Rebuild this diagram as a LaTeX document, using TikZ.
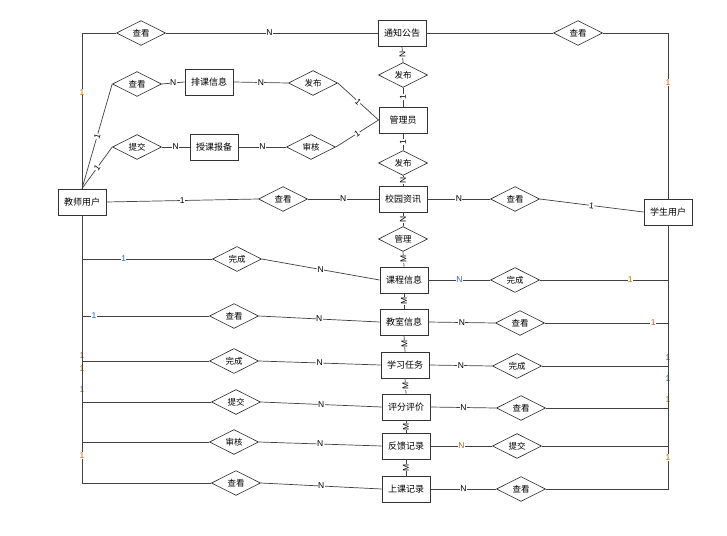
\documentclass[tikz,border=0pt]{standalone}
\usepackage{fontspec}
\setmainfont{Liberation Sans}
\newfontfamily\cjk{Noto Sans CJK SC}
\usetikzlibrary{shapes.geometric}
\definecolor{cardorange}{RGB}{196,102,0}
\definecolor{cardblue}{RGB}{20,110,200}
\begin{document}
\begin{tikzpicture}[x=1pt,y=-1pt,
	ent/.style={draw=black!80,line width=0.9pt,fill=white,minimum width=48pt,minimum height=26pt,inner sep=0pt,font=\cjk\fontsize{9}{10}\selectfont},
	rel/.style={diamond,draw=black!85,line width=0.6pt,fill=white,minimum width=49pt,minimum height=22pt,inner sep=0pt,font=\cjk\fontsize{8.5}{9}\selectfont},
	lk/.style={draw=black!75,line width=0.7pt},
	card/.style={fill=white,inner sep=0.4pt,font=\fontsize{8.5}{8.5}\selectfont},
	vcard/.style={card,rotate=90}]
	\useasboundingbox (0,0) rectangle (727,535);
	%entities
	\node[ent] (tzgg) at (402,33) {通知公告};
	\node[ent] (pkxx) at (209,82) {排课信息};
	\node[ent] (skbb) at (214,147) {授课报备};
	\node[ent] (gly) at (403,120) {管理员};
	\node[ent] (teacher) at (82,202) {教师用户};
	\node[ent] (xyzx) at (403,199) {校园资讯};
	\node[ent] (student) at (668,212) {学生用户};
	\node[ent] (kcxx) at (404,280) {课程信息};
	\node[ent] (jsxx) at (404,322) {教室信息};
	\node[ent] (xxrw) at (405,365) {学习任务};
	\node[ent] (pfpj) at (406,407) {评分评价};
	\node[ent] (fkjl) at (406,446) {反馈记录};
	\node[ent] (skjl) at (406,489) {上课记录};
	
	%relations
	\node[rel] (ckA) at (141,33) {查看};
	\node[rel] (ckB) at (578,33) {查看};
	\node[rel] (ckC) at (137,84) {查看};
	\node[rel] (tjA) at (137,147) {提交};
	\node[rel] (fbA) at (313,83) {发布};
	\node[rel] (shA) at (311,147) {审核};
	\node[rel] (fbB) at (403,75) {发布};
	\node[rel] (fbC) at (403,163) {发布};
	\node[rel] (ckD) at (283,199) {查看};
	\node[rel] (ckE) at (515,199) {查看};
	\node[rel] (glA) at (403,239) {管理};
	\node[rel] (wcA) at (237,259) {完成};
	\node[rel] (wcB) at (515,280) {完成};
	\node[rel] (ckF) at (234,316) {查看};
	\node[rel] (ckG) at (520,323) {查看};
	\node[rel] (wcC) at (234,361) {完成};
	\node[rel] (wcD) at (517,366) {完成};
	\node[rel] (tjB) at (236,402) {提交};
	\node[rel] (ckH) at (521,408) {查看};
	\node[rel] (shB) at (234,442) {审核};
	\node[rel] (tjC) at (517,446) {提交};
	\node[rel] (ckI) at (236,483) {查看};
	\node[rel] (ckJ) at (521,489) {查看};
	
	%top part
	\draw[lk] (teacher.north) |- (ckA.west) node[card,text=cardorange,pos=0.31]{1};
	\draw[lk] (ckA.east) -- (tzgg.west) node[card,pos=0.49]{N};
	\draw[lk] (tzgg.east) -- (ckB.west);
	\draw[lk] (ckB.east) -| (student.north) node[card,text=cardorange,pos=0.65]{1};
	\draw[lk] (teacher.north) -- (ckC.west) node[card,sloped,midway]{1};
	\draw[lk] (teacher.north) -- (tjA.west) node[card,sloped,midway]{1};
	\draw[lk] (ckC.east) -- (pkxx.west) node[card,midway]{N};
	\draw[lk] (pkxx.east) -- (fbA.west) node[card,midway]{N};
	\draw[lk] (fbA.east) -- (gly.west) node[card,sloped,midway]{1};
	\draw[lk] (tjA.east) -- (skbb.west) node[card,midway]{N};
	\draw[lk] (skbb.east) -- (shA.west) node[card,midway]{N};
	\draw[lk] (shA.east) -- (gly.west) node[card,sloped,midway]{1};
	\draw[lk] (tzgg.south) -- (fbB.north) node[vcard,midway]{N};
	\draw[lk] (fbB.south) -- (gly.north) node[vcard,midway]{1};
	\draw[lk] (gly.south) -- (fbC.north) node[vcard,midway]{1};
	\draw[lk] (fbC.south) -- (xyzx.north) node[vcard,midway]{N};
	\draw[lk] (teacher.east) -- (ckD.west) node[card,midway]{1};
	\draw[lk] (ckD.east) -- (xyzx.west) node[card,midway]{N};
	\draw[lk] (xyzx.east) -- (ckE.west) node[card,midway]{N};
	\draw[lk] (ckE.east) -- (student.west) node[card,sloped,midway]{1};
	\draw[lk] (xyzx.south) -- (glA.north) node[vcard,midway]{N};
	
	%middle column
	\draw[lk] (glA.south) -- (kcxx.north) node[vcard,midway]{M};
	\foreach \a/\b in {kcxx/jsxx, jsxx/xxrw, xxrw/pfpj, pfpj/fkjl, fkjl/skjl}{
		\draw[lk] (\a.south) -- (\b.north) node[vcard,midway]{M};
	}
	
	%teacher side
	\draw[lk] (teacher.south) |- (wcA.west) node[card,text=cardblue,pos=0.66]{1};
	\draw[lk] (teacher.south) |- (ckF.west) node[card,text=cardblue,pos=0.547]{1};
	\draw[lk] (teacher.south) |- (wcC.west) node[card,text=cardorange,pos=0.48]{1};
	\draw[lk] (teacher.south) |- (tjB.west) node[card,text=cardorange,pos=0.41]{1};
	\draw[lk] (teacher.south) |- (shB.west) node[card,text=cardorange,pos=0.385]{1};
	\draw[lk] (teacher.south) |- (ckI.west) node[card,text=cardorange,pos=0.448]{1};
	\foreach \r/\e in {wcA/kcxx, ckF/jsxx, wcC/xxrw, tjB/pfpj, shB/fkjl, ckI/skjl}{
		\draw[lk] (\r.east) -- (\e.west) node[card,midway]{N};
	}
	
	%student side
	\draw[lk] (student.south) |- (wcB.east) node[card,text=cardorange,pos=0.647]{1};
	\draw[lk] (student.south) |- (ckG.east) node[card,text=cardorange,pos=0.56]{1};
	\draw[lk] (student.south) |- (wcD.east) node[card,text=cardblue,pos=0.47]{1};
	\draw[lk] (student.south) |- (ckH.east) node[card,text=cardblue,pos=0.42]{1};
	\draw[lk] (student.south) |- (tjC.east) node[card,text=cardorange,pos=0.395]{1};
	\draw[lk] (student.south) |- (ckJ.east) node[card,text=cardorange,pos=0.44]{1};
	\draw[lk] (kcxx.east) -- (wcB.west) node[card,text=cardblue,midway]{N};
	\draw[lk] (jsxx.east) -- (ckG.west) node[card,midway]{N};
	\draw[lk] (xxrw.east) -- (wcD.west) node[card,midway]{N};
	\draw[lk] (pfpj.east) -- (ckH.west) node[card,midway]{N};
	\draw[lk] (fkjl.east) -- (tjC.west) node[card,text=cardorange,midway]{N};
	\draw[lk] (skjl.east) -- (ckJ.west) node[card,midway]{N};
\end{tikzpicture}
\end{document}
